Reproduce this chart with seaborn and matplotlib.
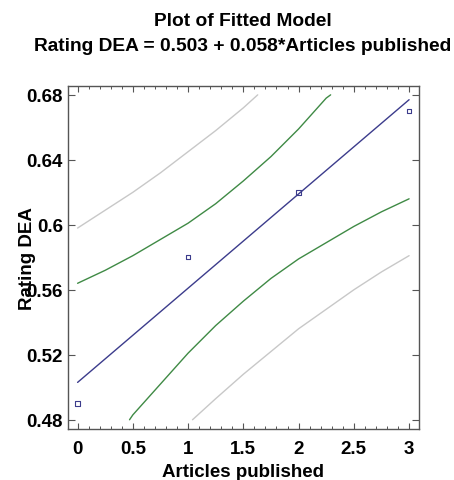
import matplotlib
matplotlib.use("Agg")
import matplotlib.pyplot as plt
from matplotlib.ticker import MultipleLocator
import seaborn as sns
import pandas as pd

# Observed data
articles = [0, 1, 2, 3]
rating = [0.49, 0.58, 0.62, 0.67]

# Fitted line
fit_x = [0, 3]
fit_y = [0.503, 0.677]

# Confidence limits (green)
ci_upper_x = [0, 0.25, 0.5, 0.75, 1.0, 1.25, 1.5, 1.75, 2.0, 2.25, 2.29]
ci_upper_y = [0.564, 0.572, 0.581, 0.591, 0.601, 0.613, 0.627, 0.642, 0.659, 0.678, 0.680]
ci_lower_x = [0.47, 0.5, 0.75, 1.0, 1.25, 1.5, 1.75, 2.0, 2.25, 2.5, 2.75, 3.0]
ci_lower_y = [0.480, 0.483, 0.502, 0.521, 0.538, 0.553, 0.567, 0.579, 0.589, 0.599, 0.608, 0.616]

# Prediction limits (gray)
pi_upper_x = [0, 0.25, 0.5, 0.75, 1.0, 1.25, 1.5, 1.63]
pi_upper_y = [0.598, 0.609, 0.620, 0.632, 0.645, 0.658, 0.672, 0.680]
pi_lower_x = [1.04, 1.25, 1.5, 1.75, 2.0, 2.25, 2.5, 2.75, 3.0]
pi_lower_y = [0.480, 0.493, 0.508, 0.522, 0.536, 0.548, 0.560, 0.571, 0.581]

x_ticks = [0, 0.5, 1, 1.5, 2, 2.5, 3]
x_tick_labels = ["0", "0.5", "1", "1.5", "2", "2.5", "3"]
y_ticks = [0.48, 0.52, 0.56, 0.6, 0.64, 0.68]
y_tick_labels = ["0.48", "0.52", "0.56", "0.6", "0.64", "0.68"]

sns.set_style("ticks")
plt.rcParams['font.family'] = ['Liberation Sans', 'DejaVu Sans']
plt.rcParams['text.color'] = 'black'
plt.rcParams['axes.labelcolor'] = 'black'
plt.rcParams['xtick.color'] = 'black'
plt.rcParams['ytick.color'] = 'black'

fig = plt.figure(figsize=(4.54, 4.81), dpi=100)
ax = fig.add_axes([0.149, 0.106, 0.774, 0.714])

gray = "#c8c8c8"
green = "#3f8a45"
blue = "#3c3c8c"

sns.lineplot(x=pi_upper_x, y=pi_upper_y, ax=ax, color=gray, lw=1.0, sort=False, estimator=None)
sns.lineplot(x=pi_lower_x, y=pi_lower_y, ax=ax, color=gray, lw=1.0, sort=False, estimator=None)
sns.lineplot(x=ci_upper_x, y=ci_upper_y, ax=ax, color=green, lw=1.0, sort=False, estimator=None)
sns.lineplot(x=ci_lower_x, y=ci_lower_y, ax=ax, color=green, lw=1.0, sort=False, estimator=None)
sns.lineplot(x=fit_x, y=fit_y, ax=ax, color=blue, lw=1.0, estimator=None)
sns.scatterplot(x=articles, y=rating, ax=ax, marker="s", s=10, facecolor="none",
                edgecolor=blue, linewidth=0.8, zorder=5)

ax.set_xlim(-0.09, 3.09)
ax.set_ylim(0.4743, 0.6857)

ax.set_xticks(x_ticks)
ax.set_xticklabels(x_tick_labels)
ax.set_yticks(y_ticks)
ax.set_yticklabels(y_tick_labels)
ax.xaxis.set_minor_locator(MultipleLocator(0.1))

for sp in ax.spines.values():
    sp.set_visible(True)
    sp.set_color("#555555")
    sp.set_linewidth(1.0)

ax.tick_params(axis="x", which="major", direction="in", length=4, width=0.8,
               color="#555555", top=True, bottom=True, labelsize=13.5, pad=8,
               labelcolor="black")
ax.tick_params(axis="x", which="minor", direction="in", length=2.2, width=0.7,
               color="#555555", top=True, bottom=True)
ax.tick_params(axis="y", which="major", direction="in", length=5, width=0.8,
               color="#555555", left=True, right=True, labelsize=13.5, pad=3.5,
               labelcolor="black")
ax.tick_params(axis="y", which="minor", left=False, right=False)
for lab in ax.get_xticklabels() + ax.get_yticklabels():
    lab.set_fontweight("bold")

ax.set_xlabel("Articles published", fontsize=13.5, fontweight="bold", labelpad=4,
              color="black")
ax.set_ylabel("Rating DEA", fontsize=13.5, fontweight="bold", color="black")
ax.yaxis.set_label_coords(-0.09, 0.5)

fig.text(0.535, 1 - 21 / 481, "Plot of Fitted Model", ha="center", va="center",
         fontsize=13.8, fontweight="bold", color="black")
fig.text(0.535, 1 - 46.5 / 481, "Rating DEA = 0.503 + 0.058*Articles published",
         ha="center", va="center", fontsize=13.8, fontweight="bold", color="black")

fig.savefig("out.png", dpi=100)
